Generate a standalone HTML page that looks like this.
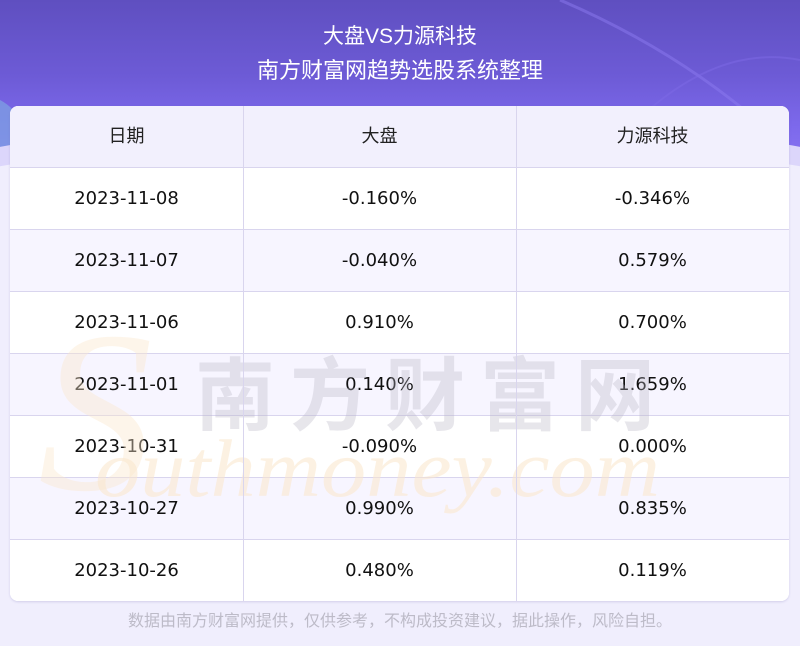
<!DOCTYPE html>
<html><head><meta charset="utf-8"><style>
*{margin:0;padding:0;box-sizing:border-box}
body{width:800px;height:646px;overflow:hidden;background:#f0eefd;position:relative;font-family:"DejaVu Sans","Liberation Sans","Noto Sans CJK SC",sans-serif}
#top{position:absolute;left:0;top:0;width:800px;height:170px;background:linear-gradient(180deg,#5f4fc0 0%,#6d5bd6 45%,#7d69ec 75%,#8a76f2 100%)}
#band{position:absolute;left:-120px;top:118px;width:1040px;height:200px;border-radius:50%/40%;background:#dcd6fb}
#band2{position:absolute;left:-140px;top:140px;width:1080px;height:200px;border-radius:50%/40%;background:#f0eefd}
.t{position:absolute;left:0;width:800px;text-align:center;color:#fff;font-family:"Liberation Sans","Noto Sans CJK SC",sans-serif}
#card{position:absolute;left:10px;top:106px;width:779px;height:495px;border-radius:8px;overflow:hidden;background:#fff;box-shadow:0 1px 2px rgba(120,110,180,0.25)}
.r{position:absolute;left:0;width:779px;height:62px;border-top:1px solid #d9d5ee}
.c{position:absolute;top:0;height:61px;line-height:61px;text-align:center;font-size:18px;color:#111}
.c1{left:0;width:233px}.c2{left:233px;width:273px}.c3{left:506px;width:273px}
.vl{position:absolute;top:0;width:1px;height:495px;background:#d9d5ee}
.h .c{font-family:"Liberation Sans","Noto Sans CJK SC",sans-serif;color:#222}
#foot{position:absolute;left:0;top:607px;width:800px;text-align:center;font-size:16px;color:#bdbbc8;font-family:"Liberation Sans","Noto Sans CJK SC",sans-serif}
</style></head><body>
<div id="top">
<svg width="800" height="170" style="position:absolute;left:0;top:0">
<path d="M0 100 Q 20 110 40 150 L0 150 Z" fill="#7d9ce2" opacity="0.8"/>
<path d="M560 0 Q 700 60 800 160" stroke="#8c7af0" stroke-width="3" fill="none" opacity="0.5"/>
<path d="M600 160 Q 700 40 800 60" stroke="#7e6ae6" stroke-width="2" fill="none" opacity="0.5"/>
</svg>
</div>
<div id="band"></div>
<div id="band2"></div>
<div class="t" style="top:23px;font-size:21px;line-height:28px">大盘VS力源科技</div>
<div class="t" style="top:56px;font-size:22px;line-height:30px">南方财富网趋势选股系统整理</div>
<div id="card">
<div class="r h" style="top:0;height:61px;background:#f2f0fd;border-top:none"><div class="c c1">日期</div><div class="c c2">大盘</div><div class="c c3">力源科技</div></div>
<div class="r" style="top:61px;background:#fff"><div class="c c1">2023-11-08</div><div class="c c2">-0.160%</div><div class="c c3">-0.346%</div></div>
<div class="r" style="top:123px;background:#f7f5ff"><div class="c c1">2023-11-07</div><div class="c c2">-0.040%</div><div class="c c3">0.579%</div></div>
<div class="r" style="top:185px;background:#fff"><div class="c c1">2023-11-06</div><div class="c c2">0.910%</div><div class="c c3">0.700%</div></div>
<div class="r" style="top:247px;background:#f7f5ff"><div class="c c1">2023-11-01</div><div class="c c2">0.140%</div><div class="c c3">1.659%</div></div>
<div class="r" style="top:309px;background:#fff"><div class="c c1">2023-10-31</div><div class="c c2">-0.090%</div><div class="c c3">0.000%</div></div>
<div class="r" style="top:371px;background:#f7f5ff"><div class="c c1">2023-10-27</div><div class="c c2">0.990%</div><div class="c c3">0.835%</div></div>
<div class="r" style="top:433px;background:#fff"><div class="c c1">2023-10-26</div><div class="c c2">0.480%</div><div class="c c3">0.119%</div></div>
<svg width="779" height="495" style="position:absolute;left:0;top:0">
<text x="28" y="383" font-family="Liberation Serif,serif" font-style="italic" font-size="230" fill="#fbe7cc" opacity="0.4">S</text>
<text x="85" y="390" font-family="Liberation Serif,serif" font-style="italic" font-size="82" fill="#fbe7cc" opacity="0.55" textLength="565" lengthAdjust="spacingAndGlyphs">outhmoney.com</text>
<text x="185" y="318" font-family="Noto Sans CJK SC,sans-serif" font-weight="bold" font-size="80" fill="#b8b6c4" opacity="0.33" textLength="460" lengthAdjust="spacing">南方财富网</text>
</svg>
<div class="vl" style="left:233px"></div>
<div class="vl" style="left:506px"></div>
</div>
<div id="foot">数据由南方财富网提供，仅供参考，不构成投资建议，据此操作，风险自担。</div>
</body></html>
